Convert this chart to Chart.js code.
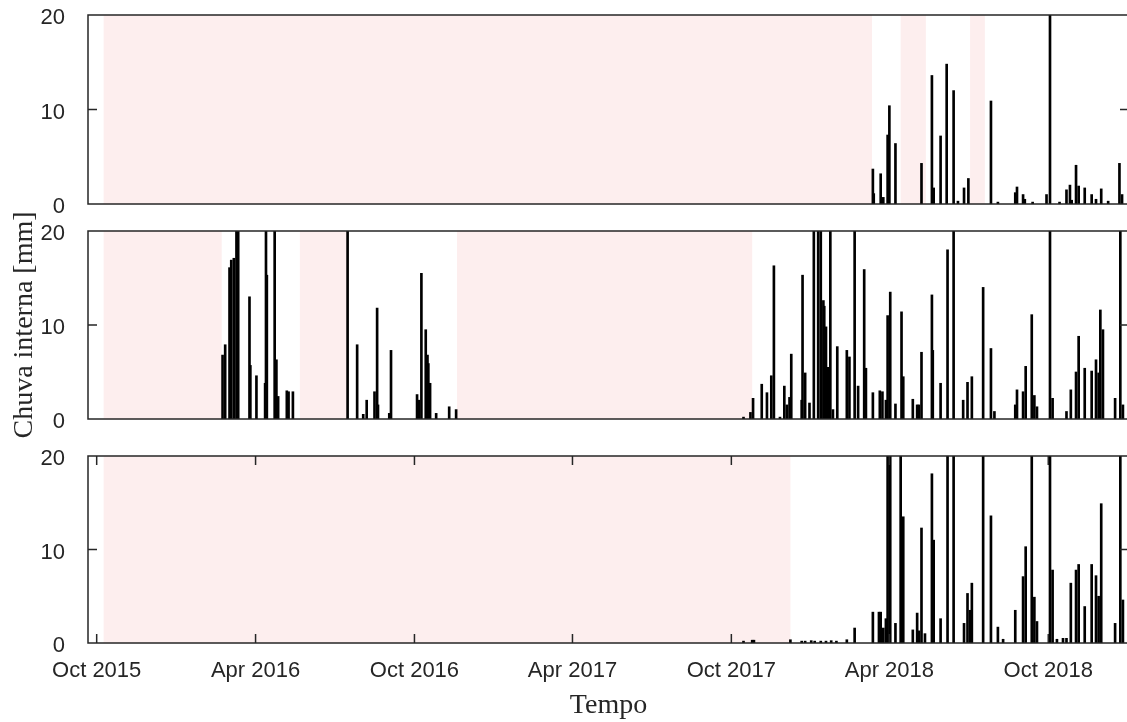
<!DOCTYPE html>
<html>
<head>
<meta charset="utf-8">
<title>Chuva interna</title>
<script src="https://cdn.jsdelivr.net/npm/chart.js@4.4.1/dist/chart.umd.min.js"></script>
<style>
  html, body { margin: 0; padding: 0; background: #fff; overflow: hidden; }
  #wrap { position: relative; width: 1127px; height: 722px; overflow: hidden; }
  #wrap canvas { position: absolute; left: 0; top: 0; }
</style>
</head>
<body>
<div id="wrap">
  <canvas id="p1" width="1129" height="722"></canvas>
  <canvas id="p2" width="1129" height="722"></canvas>
  <canvas id="p3" width="1129" height="722"></canvas>
</div>
<script>
// time axis
const xStart = '2015-09-21';
const xEnd = '2019-01-02';
const tickDates = ['2015-10-01', '2016-04-01', '2016-10-01', '2017-04-01', '2017-10-01', '2018-04-01', '2018-10-01'];
const tickLabels = ['Oct 2015', 'Apr 2016', 'Oct 2016', 'Apr 2017', 'Oct 2017', 'Apr 2018', 'Oct 2018'];

// gauge 1
const dates1 = ['2018-03-13', '2018-03-14', '2018-03-22', '2018-03-25', '2018-03-30', '2018-04-01', '2018-04-08',
  '2018-05-08', '2018-05-20', '2018-05-22', '2018-05-30', '2018-06-06', '2018-06-14', '2018-06-19', '2018-06-26',
  '2018-07-01', '2018-07-27', '2018-08-04', '2018-08-24', '2018-08-26', '2018-09-02', '2018-09-04', '2018-09-13',
  '2018-09-29', '2018-10-03', '2018-10-14', '2018-10-22', '2018-10-26', '2018-10-28', '2018-11-02', '2018-11-05',
  '2018-11-12', '2018-11-20', '2018-11-25', '2018-12-01', '2018-12-09', '2018-12-22', '2018-12-25'];
const rain1 = [3.7, 1.1, 3.2, 0.7, 7.3, 10.4, 6.4,
  4.3, 13.6, 1.7, 7.2, 14.8, 12.0, 0.3, 1.7,
  2.7, 10.9, 0.2, 1.2, 1.8, 1.0, 0.5, 0.2,
  1.0, 24.0, 0.2, 1.5, 2.0, 0.4, 4.1, 1.9,
  1.7, 1.0, 0.5, 1.6, 0.3, 4.3, 1.0];
const gaps1 = [['2015-10-09', '2018-03-12'], ['2018-04-14', '2018-05-13'], ['2018-07-03', '2018-07-20']];

// gauge 2
const dates2 = ['2016-02-23', '2016-02-26', '2016-03-02', '2016-03-04', '2016-03-07', '2016-03-10', '2016-03-12',
  '2016-03-25', '2016-03-26', '2016-04-02', '2016-04-12', '2016-04-13', '2016-04-14', '2016-04-23', '2016-04-25',
  '2016-04-27', '2016-05-07', '2016-05-09', '2016-05-14',
  '2016-07-16', '2016-07-27', '2016-08-03', '2016-08-07', '2016-08-16', '2016-08-19', '2016-08-20', '2016-09-02',
  '2016-09-04', '2016-10-04', '2016-10-06', '2016-10-09', '2016-10-14', '2016-10-16', '2016-10-17', '2016-10-19',
  '2016-10-26', '2016-11-10', '2016-11-18',
  '2017-10-15', '2017-10-23', '2017-10-26', '2017-11-05', '2017-11-11', '2017-11-16', '2017-11-19', '2017-11-26',
  '2017-12-01', '2017-12-04', '2017-12-07', '2017-12-09', '2017-12-21', '2017-12-22', '2017-12-25', '2017-12-30',
  '2018-01-04', '2018-01-09', '2018-01-12', '2018-01-15', '2018-01-16', '2018-01-17', '2018-01-18', '2018-01-20',
  '2018-01-23', '2018-01-26', '2018-01-31', '2018-02-11', '2018-02-14', '2018-02-20', '2018-02-24', '2018-03-03',
  '2018-03-05', '2018-03-13', '2018-03-21', '2018-03-24', '2018-03-28', '2018-03-30', '2018-04-02', '2018-04-08',
  '2018-04-15', '2018-04-17', '2018-04-28', '2018-05-03', '2018-05-05', '2018-05-08', '2018-05-20', '2018-05-21',
  '2018-05-30', '2018-06-07', '2018-06-14', '2018-06-25', '2018-06-30', '2018-07-05', '2018-07-18', '2018-07-27',
  '2018-07-31', '2018-08-24', '2018-08-26', '2018-09-02', '2018-09-05', '2018-09-12', '2018-09-15', '2018-09-18',
  '2018-10-03', '2018-10-06', '2018-10-22', '2018-10-27', '2018-11-02', '2018-11-05', '2018-11-12', '2018-11-20',
  '2018-11-25', '2018-11-28', '2018-11-30', '2018-12-03', '2018-12-17', '2018-12-23', '2018-12-26'];
const rain2 = [6.8, 7.9, 16.1, 16.9, 17.1, 24, 30,
  13.0, 5.7, 4.6, 3.8, 25, 15.3, 25, 6.3,
  2.4, 3.0, 2.9, 2.9,
  25, 7.9, 0.5, 2.0, 2.9, 11.8, 1.5, 0.6,
  7.3, 2.6, 2.0, 15.5, 9.5, 6.8, 5.9, 3.8,
  0.6, 1.3, 1.0,
  0.2, 0.7, 2.2, 3.7, 2.8, 4.6, 16.3, 0.2,
  3.5, 1.5, 2.3, 6.9, 2.0, 15.3, 4.9, 1.7,
  25, 25, 25, 12.6, 12.0, 9.0, 9.8, 5.5,
  25, 1.0, 7.7, 7.3, 6.6, 25, 3.5, 15.9,
  5.4, 2.8, 3.0, 2.9, 2.0, 11.0, 13.5, 1.6,
  11.4, 4.5, 2.1, 1.5, 1.5, 7.1, 13.2, 7.3,
  3.8, 18.0, 25, 2.0, 3.9, 4.5, 14.0, 7.5,
  0.8, 1.5, 3.1, 2.9, 5.6, 11.1, 2.5, 1.3,
  25, 2.2, 0.8, 3.1, 5.0, 8.8, 5.4, 5.1,
  6.3, 4.9, 11.6, 9.5, 2.2, 25, 1.5];
const gaps2 = [['2015-10-09', '2016-02-22'], ['2016-05-22', '2016-07-15'], ['2016-11-19', '2017-10-25']];

// gauge 3
const dates3 = ['2017-10-15', '2017-10-25', '2017-10-27', '2017-12-08', '2017-12-21', '2017-12-25',
  '2018-01-01', '2018-01-05', '2018-01-12', '2018-01-18', '2018-01-24', '2018-01-30', '2018-02-11', '2018-02-20',
  '2018-03-13', '2018-03-20', '2018-03-22', '2018-03-25', '2018-03-28', '2018-03-30', '2018-04-02', '2018-04-08',
  '2018-04-14', '2018-04-17', '2018-04-28', '2018-05-03', '2018-05-05', '2018-05-08', '2018-05-12', '2018-05-20',
  '2018-05-22', '2018-05-30', '2018-06-07', '2018-06-14', '2018-06-26', '2018-06-30', '2018-07-03', '2018-07-05',
  '2018-07-18', '2018-07-27', '2018-08-04', '2018-08-10', '2018-08-24', '2018-09-02', '2018-09-05', '2018-09-12',
  '2018-09-15', '2018-09-18', '2018-10-03', '2018-10-06', '2018-10-11', '2018-10-18', '2018-10-22', '2018-10-27',
  '2018-11-02', '2018-11-05', '2018-11-12', '2018-11-20', '2018-11-25', '2018-11-28', '2018-12-01', '2018-12-17',
  '2018-12-23', '2018-12-26'];
const rain3 = [0.2, 0.3, 0.3, 0.35, 0.2, 0.2,
  0.25, 0.2, 0.2, 0.2, 0.25, 0.2, 0.35, 1.6,
  3.3, 3.3, 3.3, 1.6, 2.6, 25, 25, 2.1,
  25, 13.5, 1.4, 3.2, 1.3, 12.3, 1.0, 18.1,
  11.0, 2.6, 25, 25, 2.1, 5.3, 3.5, 6.4,
  25, 13.6, 1.7, 0.4, 3.5, 7.1, 10.3, 25,
  4.9, 2.3, 25, 7.8, 0.4, 0.5, 0.5, 6.4,
  7.8, 8.4, 3.9, 8.4, 7.2, 5.0, 14.9, 2.1,
  25, 4.6];
const gaps3 = [['2015-10-09', '2017-12-08']];

const ink = '#262626';
Chart.defaults.font.family = "'Liberation Sans', Arial, sans-serif";
Chart.defaults.font.size = 22;
Chart.defaults.color = ink;

// pink spans for missing records, then box and inward ticks on top
const framePlugin = {
  id: 'frame',
  beforeDatasetsDraw(chart, args, opts) {
    const {ctx, chartArea: a, scales: {x}} = chart;
    ctx.save();
    ctx.fillStyle = '#fdeeee';
    opts.gaps.forEach(([s, e]) => {
      const x0 = Math.max(x.getPixelForValue(Date.parse(s)), a.left);
      const x1 = Math.min(x.getPixelForValue(Date.parse(e)), a.right);
      ctx.fillRect(x0, a.top, x1 - x0, a.bottom - a.top);
    });
    ctx.restore();
  },
  afterDatasetsDraw(chart, args, opts) {
    const {ctx, chartArea: a, scales: {x, y}} = chart;
    const len = 9;
    ctx.save();
    ctx.strokeStyle = ink;
    ctx.lineWidth = 1.5;
    ctx.beginPath();
    const ty = y.getPixelForValue(10);
    ctx.moveTo(a.left, ty); ctx.lineTo(a.left + len, ty);
    ctx.moveTo(a.right, ty); ctx.lineTo(a.right - len, ty);
    if (opts.xTicks) {
      tickDates.forEach(d => {
        const px = x.getPixelForValue(Date.parse(d));
        ctx.moveTo(px, a.bottom); ctx.lineTo(px, a.bottom - len);
        ctx.moveTo(px, a.top); ctx.lineTo(px, a.top + len);
      });
    }
    ctx.stroke();
    ctx.strokeRect(a.left, a.top, a.right - a.left, a.bottom - a.top);
    ctx.restore();
  }
};

function panel(id, dates, rain, gaps, top, bottom, withTime, withLabel) {
  const xh = withTime ? 722 - bottom : 0;
  return new Chart(document.getElementById(id), {
    type: 'bar',
    data: {
      datasets: [{
        data: dates.map((d, i) => ({x: Date.parse(d), y: rain[i]})),
        backgroundColor: '#000',
        borderWidth: 0,
        barThickness: 2,
        clip: 0
      }]
    },
    options: {
      responsive: false,
      animation: false,
      devicePixelRatio: 1,
      events: [],
      layout: {padding: {top: top, bottom: 722 - bottom - xh, left: 0, right: 0}},
      plugins: {
        legend: {display: false},
        tooltip: {enabled: false},
        frame: {gaps: gaps, xTicks: withTime}
      },
      scales: {
        x: {
          type: 'linear',
          min: Date.parse(xStart),
          max: Date.parse(xEnd),
          offset: false,
          display: withTime,
          grid: {display: false},
          border: {display: false},
          afterBuildTicks: s => { s.ticks = tickDates.map(d => ({value: Date.parse(d)})); },
          afterFit: s => { s.height = xh; s.paddingLeft = 0; s.paddingRight = 0; },
          ticks: {autoSkip: false, maxRotation: 0, padding: 7, callback: (v, i) => tickLabels[i]},
          title: {
            display: withTime,
            text: 'Tempo',
            font: {family: "'Liberation Serif', 'Times New Roman', serif", size: 28},
            padding: {top: 0, bottom: 0}
          }
        },
        y: {
          min: 0,
          max: 20,
          grid: {display: false},
          border: {display: false},
          afterFit: s => { s.width = 88; s.paddingTop = 0; s.paddingBottom = 0; },
          ticks: {stepSize: 10, padding: 15, labelOffset: 3},
          title: {
            display: withLabel,
            text: 'Chuva interna [mm]',
            font: {family: "'Liberation Serif', 'Times New Roman', serif", size: 28},
            padding: {top: 8, bottom: 0}
          }
        }
      }
    },
    plugins: [framePlugin]
  });
}

panel('p1', dates1, rain1, gaps1, 15, 204, false, false);
panel('p2', dates2, rain2, gaps2, 231, 419, false, true);
panel('p3', dates3, rain3, gaps3, 456, 643, true, false);
</script>
</body>
</html>
